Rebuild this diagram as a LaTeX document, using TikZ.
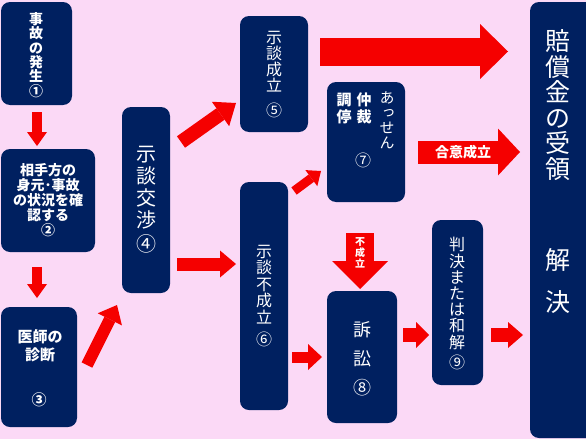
\documentclass[tikz,border=0pt]{standalone}
\usepackage{fontspec}
\setmainfont{Noto Sans CJK JP}
\newfontfamily\vfont[RawFeature=+vert]{Noto Sans CJK JP}
\usetikzlibrary{arrows.meta}
\definecolor{bgpink}{RGB}{251,217,246}
\definecolor{navy}{RGB}{0,32,96}
\definecolor{arrred}{RGB}{245,0,0}
\newcommand\fs[2]{\fontsize{#1}{#2}\selectfont}
\begin{document}
\begin{tikzpicture}[x=1pt,y=-1pt,
  box/.style={fill=navy, rounded corners=9pt, inner sep=0pt},
  txt/.style={text=white, align=center, inner sep=0pt},
  blk/.style n args={3}{draw=arrred, line width=#1pt,
     -{Triangle[width=#2pt,length=#3pt,line width=0pt]}}]
\fill[bgpink] (0,0) rectangle (586,439);
\useasboundingbox (0,0) rectangle (586,439);
\clip (0,0) rectangle (586,439);

% boxes
\node[box, minimum width=71pt, minimum height=103pt] (b1) at (36.5,53.5) {};
\node[box, minimum width=94pt, minimum height=103pt] (b2) at (48,200.5) {};
\node[box, minimum width=76pt, minimum height=120pt] (b3) at (39,367) {};
\node[box, minimum width=48pt, minimum height=186pt] (b4) at (146,200) {};
\node[box, minimum width=68pt, minimum height=116pt] (b5) at (274,74) {};
\node[box, minimum width=48pt, minimum height=228pt] (b6) at (264,296) {};
\node[box, minimum width=78pt, minimum height=120pt] (b7) at (366,142) {};
\node[box, minimum width=70pt, minimum height=132pt] (b8) at (362,357) {};
\node[box, minimum width=51pt, minimum height=165pt] (b9) at (457.5,302.5) {};
\node[box, minimum width=70pt, minimum height=436pt] (bb) at (565,220) {};

% texts
\node[txt, font=\fs{14}{14.4}\bfseries] (t1) at (36,55) {事\\故\\の\\発\\生\\①};
\node[txt, font=\fs{14}{15}\bfseries] (t2) at (48,200) {相手方の\\身元･事故\\の状況を確\\認する\\②};
\node[txt, font=\fs{15}{18}\bfseries] (t3) at (40,346) {医師の\\診断};
\node[txt, font=\fs{15}{18}\bfseries] (t3n) at (39,400) {③};
\node[txt, font=\fs{20}{22}] (t4) at (146,199.5) {示\\談\\交\\渉\\[2pt]④};
\node[txt, font=\fs{16}{16}] (t5) at (274,74.5) {示\\談\\成\\立\\[9pt]⑤};
\node[txt, font=\fs{16}{16.5}] (t6) at (264,296) {示\\談\\不\\成\\立\\[5.5pt]⑥};
\node[txt, font=\fs{15}{15}\vfont] (t7a) at (387,120.5) {あ\\っ\\せ\\ん};
\node[txt, font=\fs{15}{17}\bfseries] (t7b) at (364,108.5) {仲\\裁};
\node[txt, font=\fs{15}{17}\bfseries] (t7c) at (344,108.5) {調\\停};
\node[txt, font=\fs{16}{16}] (t7n) at (363,160) {⑦};
\node[txt, font=\fs{18}{29}] (t8) at (362,359) {訴\\訟\\⑧};
\node[txt, font=\fs{16}{16.2}] (t9) at (457,303.5) {判\\決\\ま\\た\\は\\和\\解\\[4pt]⑨};
\node[txt, font=\fs{25}{25.6}] (tb1) at (558,105) {賠\\償\\金\\の\\受\\領};
\node[txt, font=\fs{25}{42}] (tb2) at (558,281) {解\\決};

% arrow end points
\coordinate (s12) at (37,112);  \coordinate (e12) at (37,146);
\coordinate (s23) at (37,267);  \coordinate (e23) at (37,298);
\coordinate (s34) at (87,365);  \coordinate (e34) at (117,305);
\coordinate (s45) at (181,142); \coordinate (e45) at (236,103);
\coordinate (s46) at (177,264); \coordinate (e46) at (236,264);
\coordinate (s5b) at (320,51.5); \coordinate (e5b) at (508,51.5);
\coordinate (s67) at (294,191); \coordinate (e67) at (321,171);
\coordinate (s7b) at (418,152); \coordinate (e7b) at (520,152);
\coordinate (sdn) at (360,233); \coordinate (edn) at (360,289);
\coordinate (s68) at (292,357); \coordinate (e68) at (322,357);
\coordinate (s89) at (403,335); \coordinate (e89) at (429,335);
\coordinate (s9b) at (491,335); \coordinate (e9b) at (523,335);

\draw[blk={10}{20}{14}] (s12) -- (e12);
\draw[blk={10}{20}{14}] (s23) -- (e23);
\draw[blk={12}{27}{16}] (s34) -- (e34);
\draw[blk={14}{30}{19}] (s45) -- (e45);
\draw[blk={13}{27}{16}] (s46) -- (e46);
\draw[blk={28}{55}{28}] (s5b) -- (e5b);
\draw[blk={9}{20}{12}]  (s67) -- (e67);
\draw[blk={23}{47}{22}] (s7b) -- (e7b);
\draw[blk={28}{56}{28}] (sdn) -- (edn);
\draw[blk={11}{26}{14}] (s68) -- (e68);
\draw[blk={14}{26}{13}] (s89) -- (e89);
\draw[blk={14}{26}{15}] (s9b) -- (e9b);

\node[txt, font=\fs{14}{14}\bfseries] (l7b) at (463,152) {合意成立};
\node[txt, font=\fs{10}{11}\bfseries] (ldn) at (360,253) {不\\成\\立};
\end{tikzpicture}
\end{document}
